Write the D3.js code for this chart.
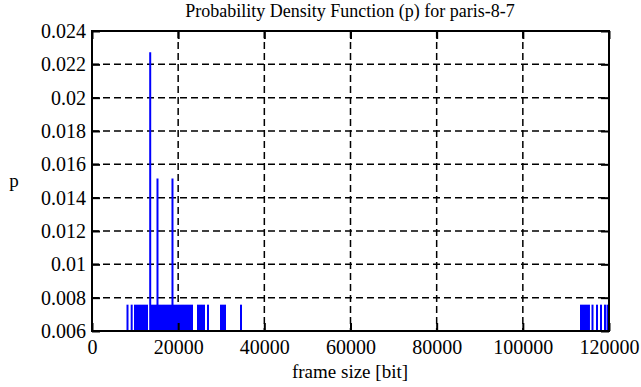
<!DOCTYPE html>
<html>
<head>
<meta charset="utf-8">
<script src="https://cdn.jsdelivr.net/npm/d3@7"></script>
<style>
  body { margin: 0; background: #fff; }
  svg text { font-family: "Times New Roman", "Liberation Serif", "DejaVu Serif", serif; fill: #000; }
</style>
</head>
<body>
<div id="chart"></div>
<script>
'use strict';

// frame sizes (bit) and their probability
var frameSizes = [
    8240, 9210, 9980, 10440, 10910, 11370, 11840, 12300, 12770, 13510,
    13930, 14390, 14850, 15200, 15550, 16010, 16480, 16940, 17410, 17870,
    18340, 18680, 19030, 19500, 19960, 20420, 20890, 21350, 21820, 22280,
    22750, 23210, 24600, 25070, 25530, 26000, 26920, 29940, 30400, 30870,
    34580, 113500, 113960, 114430, 114890, 115350, 116170, 117210, 118140, 119070,
    119650
];
var probs = [
    0.00758, 0.00758, 0.00758, 0.00758, 0.00758, 0.00758, 0.00758, 0.00758, 0.00758, 0.02273,
    0.00758, 0.00758, 0.00758, 0.01515, 0.00758, 0.00758, 0.00758, 0.00758, 0.00758, 0.00758,
    0.00758, 0.01515, 0.00758, 0.00758, 0.00758, 0.00758, 0.00758, 0.00758, 0.00758, 0.00758,
    0.00758, 0.00758, 0.00758, 0.00758, 0.00758, 0.00758, 0.00758, 0.00758, 0.00758, 0.00758,
    0.00758, 0.00758, 0.00758, 0.00758, 0.00758, 0.00758, 0.00758, 0.00758, 0.00758, 0.00758,
    0.00758
];
var xTicks = [0, 20000, 40000, 60000, 80000, 100000, 120000];
var yTicks = [0.006, 0.008, 0.01, 0.012, 0.014, 0.016, 0.018, 0.02, 0.022, 0.024];
var yTickLabels = ['0.006', '0.008', '0.01', '0.012', '0.014', '0.016', '0.018', '0.02', '0.022', '0.024'];

var width = 641, height = 387;
var plot = { left: 92, right: 609, top: 31, bottom: 331 };
var serif = '"Times New Roman", "Liberation Serif", serif';

var x = d3.scaleLinear().domain([0, 120000]).range([plot.left, plot.right]);
var y = d3.scaleLinear().domain([0.006, 0.024]).range([plot.bottom, plot.top]);

var svg = d3.select('#chart').append('svg')
    .attr('width', width)
    .attr('height', height);

var data = frameSizes.map(function(d, i) { return { size: d, p: probs[i] }; });

// grid
svg.append('g').selectAll('line')
    .data(xTicks.slice(1, -1))
    .enter().append('line')
    .attr('x1', function(d) { return x(d); })
    .attr('x2', function(d) { return x(d); })
    .attr('y1', plot.top)
    .attr('y2', plot.bottom)
    .style('stroke', '#000')
    .style('stroke-width', 1.5)
    .style('stroke-dasharray', '7,4');

svg.append('g').selectAll('line')
    .data(yTicks.slice(1, -1))
    .enter().append('line')
    .attr('x1', plot.left)
    .attr('x2', plot.right)
    .attr('y1', function(d) { return y(d); })
    .attr('y2', function(d) { return y(d); })
    .style('stroke', '#000')
    .style('stroke-width', 1.5)
    .style('stroke-dasharray', '7,4');

// impulses
svg.append('g').selectAll('line')
    .data(data)
    .enter().append('line')
    .attr('x1', function(d) { return x(d.size); })
    .attr('x2', function(d) { return x(d.size); })
    .attr('y1', y(0.006))
    .attr('y2', function(d) { return y(d.p); })
    .style('stroke', '#0000ff')
    .style('stroke-width', 2);

// axes with inward ticks, mirrored
var bottomAxis = d3.axisBottom(x).tickValues(xTicks).tickSizeInner(-8).tickSizeOuter(0).tickPadding(9)
    .tickFormat(d3.format('d'));
var topAxis = d3.axisTop(x).tickValues(xTicks).tickSizeInner(-8).tickSizeOuter(0).tickFormat('');
var leftAxis = d3.axisLeft(y).tickValues(yTicks).tickSizeInner(-8).tickSizeOuter(0).tickPadding(6)
    .tickFormat(function(d, i) { return yTickLabels[i]; });
var rightAxis = d3.axisRight(y).tickValues(yTicks).tickSizeInner(-8).tickSizeOuter(0).tickFormat('');

function styleAxis(g) {
    g.attr('font-family', serif);
    g.select('.domain').remove();
    g.selectAll('line').style('stroke', '#000').style('stroke-width', 2);
    g.selectAll('text').style('font-size', '20px').style('font-family', serif);
}

svg.append('g').attr('transform', 'translate(0,' + plot.bottom + ')').call(bottomAxis).call(styleAxis);
svg.append('g').attr('transform', 'translate(0,' + plot.top + ')').call(topAxis).call(styleAxis);
svg.append('g').attr('transform', 'translate(' + plot.left + ',0)').call(leftAxis).call(styleAxis);
svg.append('g').attr('transform', 'translate(' + plot.right + ',0)').call(rightAxis).call(styleAxis);

// frame
svg.append('rect')
    .attr('x', plot.left)
    .attr('y', plot.top)
    .attr('width', plot.right - plot.left)
    .attr('height', plot.bottom - plot.top)
    .style('fill', 'none')
    .style('stroke', '#000')
    .style('stroke-width', 2);

// labels
svg.append('text')
    .attr('x', 350)
    .attr('y', 17)
    .attr('text-anchor', 'middle')
    .style('font-size', '18px')
    .style('font-family', serif)
    .text('Probability Density Function (p) for paris-8-7');

svg.append('text')
    .attr('x', 350)
    .attr('y', 378)
    .attr('text-anchor', 'middle')
    .style('font-size', '19px')
    .style('font-family', serif)
    .text('frame size [bit]');

svg.append('text')
    .attr('x', 14)
    .attr('y', 187)
    .attr('text-anchor', 'middle')
    .style('font-size', '19px')
    .style('font-family', serif)
    .text('p');
</script>
</body>
</html>
